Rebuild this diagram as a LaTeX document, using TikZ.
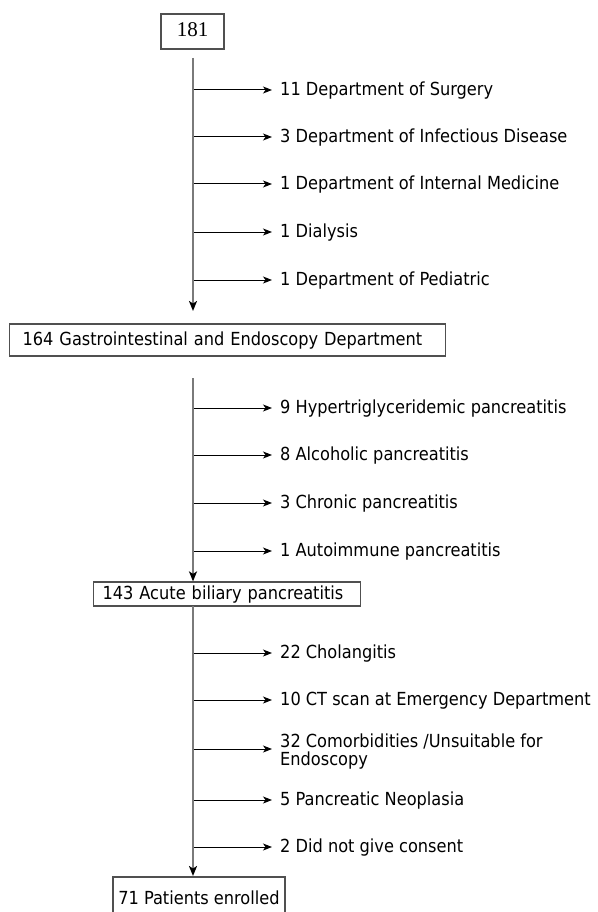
\documentclass[tikz,border=0pt]{standalone}
\usepackage{fontspec}
\setmainfont{DejaVu Sans Condensed}
\newfontfamily\serifnum{Liberation Serif}
\usetikzlibrary{arrows.meta}
\definecolor{vgray}{HTML}{7A7A7A}
\definecolor{bgray}{HTML}{505050}
\begin{document}
\begin{tikzpicture}[x=1pt,y=-1pt,
  txt/.style={font=\fontsize{18}{18.5}\selectfont},
  lbl/.style={txt, anchor=west, inner xsep=8pt, inner ysep=0pt, text height=14.4pt, text depth=4.3pt},
  box/.style={txt, draw=bgray, line width=1.2pt, inner ysep=0pt, text height=14.4pt, text depth=4.3pt},
  vline/.style={draw=vgray, line width=2pt, -{Stealth[length=10pt,width=8pt,inset=2.5pt,color=black]}},
  branch/.style={draw=black, line width=1pt, -{Stealth[length=9pt,width=7pt,inset=2.5pt]}}]
\clip (0,0) rectangle (597,912);
\fill[white] (0,0) rectangle (597,912);

% boxes
\node[box, minimum width=63pt, minimum height=35pt, font=\serifnum\fontsize{21}{22}\selectfont] (n181) at (192.5,31.5) {181};
\node[box, anchor=west, minimum height=32pt, inner xsep=13pt, text width=410pt, align=left] (n164) at (9,340) {164 Gastrointestinal and Endoscopy Department};
\node[box, anchor=west, minimum height=24pt, inner xsep=9pt, text width=249pt, align=left] (n143) at (93,594) {143 Acute biliary pancreatitis};
\node[box, minimum width=172pt, minimum height=44pt] (n71) at (199,899) {71 Patients enrolled};

% vertical lines
\coordinate (v1s) at (193,58);
\coordinate (v1e) at (193,311);
\coordinate (v2s) at (193,378);
\coordinate (v3s) at (193,606);
\coordinate (v3e) at (193,876);
\draw[vline] (v1s) -- (v1e);
\draw[vline] (v2s) -- (v2s |- n143.north);
\draw[vline] (v3s) -- (v3e);

% group 1
\node[lbl] (a1) at (272,90) {11 Department of Surgery};
\node[lbl] (a2) at (272,137) {3 Department of Infectious Disease};
\node[lbl] (a3) at (272,184) {1 Department of Internal Medicine};
\node[lbl] (a4) at (272,232) {1 Dialysis};
\node[lbl] (a5) at (272,280) {1 Department of Pediatric};
\foreach \n in {a1,a2,a3,a4,a5} \draw[branch] (\n.west -| v1s) ++(1,0) -- (\n.west);

% group 2
\node[lbl] (b1) at (272,408) {9 Hypertriglyceridemic pancreatitis};
\node[lbl] (b2) at (272,455) {8 Alcoholic pancreatitis};
\node[lbl] (b3) at (272,503) {3 Chronic pancreatitis};
\node[lbl] (b4) at (272,551) {1 Autoimmune pancreatitis};
\foreach \n in {b1,b2,b3,b4} \draw[branch] (\n.west -| v2s) ++(1,0) -- (\n.west);

% group 3
\node[lbl] (c1) at (272,653) {22 Cholangitis};
\node[lbl] (c2) at (272,700) {10 CT scan at Emergency Department};
\node[txt, anchor=west, inner xsep=8pt, inner ysep=0pt, align=left] (c3) at (272,751.5) {32 Comorbidities /Unsuitable for\\Endoscopy};
\node[lbl] (c4) at (272,800) {5 Pancreatic Neoplasia};
\node[lbl] (c5) at (272,847) {2 Did not give consent};
\coordinate (c3p) at (193,749);
\foreach \n in {c1,c2,c4,c5} \draw[branch] (\n.west -| v3s) ++(1,0) -- (\n.west);
\draw[branch] (c3p) ++(1,0) -- (c3p -| c3.west);
\end{tikzpicture}
\end{document}
